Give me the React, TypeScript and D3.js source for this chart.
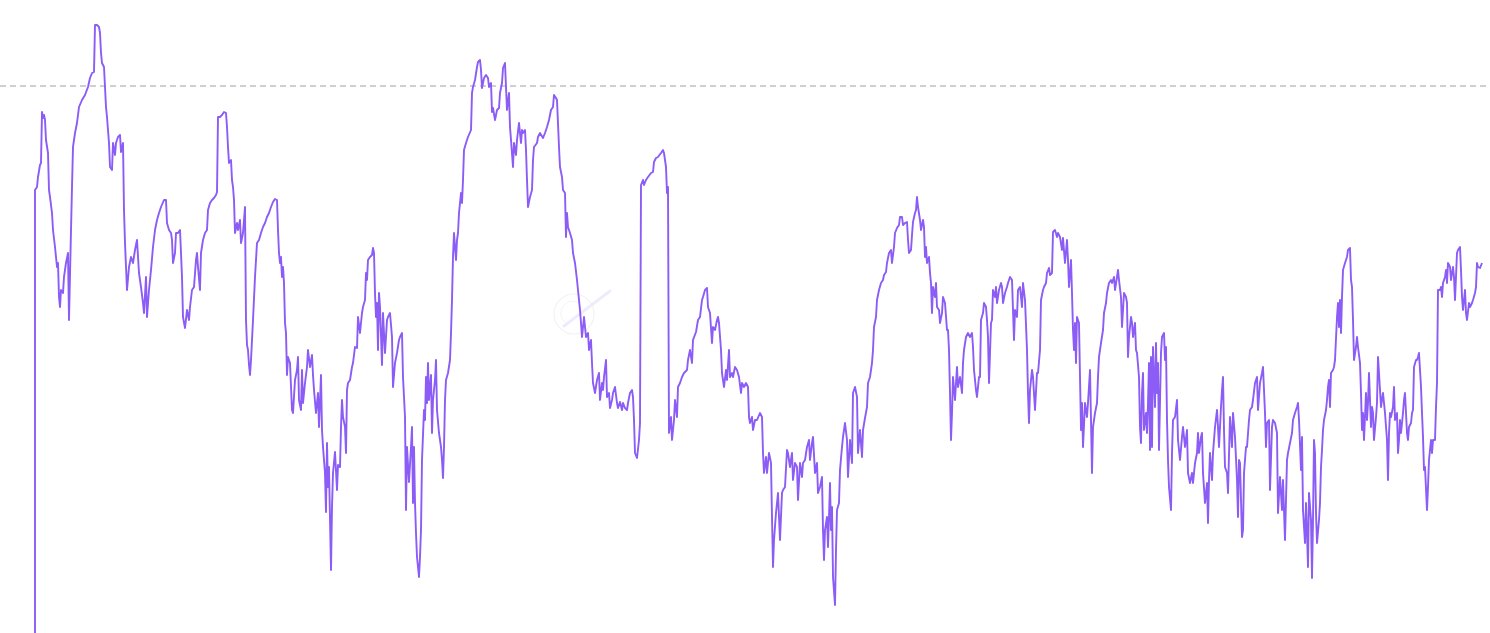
import { useMemo } from 'react';
import * as d3 from 'd3';

// [day, index value]
const series: [number, number][] = [
  [0, 0], [0, 44.3], [2, 44.6], [3, 45.6], [5, 46.8], [6, 47.0], [7, 52.1], [8, 51.5], [9, 51.8], [10, 51.3],
  [11, 49.3], [13, 48.0], [14, 44.3], [15, 43.6], [17, 42.0], [18, 40.3], [20, 38.6], [22, 36.6], [23, 37.0], [24, 33.6],
  [25, 32.6], [26, 34.3], [28, 34.0], [29, 35.6], [31, 37.0], [33, 38.0], [34, 31.3], [36, 40.3], [37, 44.6], [38, 48.6],
  [40, 50.0], [42, 51.0], [44, 52.6], [47, 53.3], [50, 53.8], [53, 54.6], [55, 55.5], [57, 56.0], [59, 56.1], [60, 60.8],
  [62, 60.8], [64, 60.6], [65, 60.0], [66, 58.0], [67, 57.0], [69, 56.6], [71, 52.6], [72, 51.6], [74, 49.0], [75, 46.6],
  [77, 46.3], [78, 49.0], [80, 47.8], [81, 49.0], [83, 49.6], [85, 49.8], [86, 48.1], [88, 49.0], [89, 42.3], [90, 39.0],
  [92, 34.3], [94, 36.6], [96, 37.6], [98, 37.0], [100, 38.3], [102, 39.3], [104, 36.0], [106, 34.6], [108, 33.0], [109, 32.0],
  [111, 35.6], [112, 31.6], [114, 34.3], [116, 36.3], [118, 38.6], [120, 40.3], [122, 41.3], [124, 42.0], [126, 42.6], [129, 43.3],
  [131, 43.3], [132, 41.0], [134, 40.3], [136, 40.0], [137, 39.3], [138, 37.0], [140, 38.0], [141, 40.0], [143, 40.0], [145, 40.3],
  [146, 38.0], [147, 35.6], [148, 31.6], [150, 30.5], [152, 32.3], [154, 31.3], [155, 32.6], [157, 34.3], [159, 34.6], [161, 37.3],
  [162, 38.0], [163, 36.6], [165, 34.3], [166, 38.0], [168, 39.3], [170, 40.0], [172, 40.3], [173, 42.3], [175, 43.0], [177, 43.3],
  [179, 43.5], [181, 43.8], [182, 44.1], [183, 51.6], [185, 51.6], [187, 51.8], [189, 52.1], [191, 52.0], [192, 50.6], [193, 48.6],
  [194, 47.0], [196, 47.3], [197, 45.3], [198, 44.6], [199, 43.3], [200, 40.0], [202, 41.0], [203, 40.3], [205, 41.3], [206, 39.0],
  [208, 40.0], [210, 42.6], [211, 31.3], [212, 28.8], [213, 28.3], [214, 26.8], [215, 25.8], [216, 27.3], [218, 31.3], [220, 35.6],
  [221, 37.3], [222, 39.0], [224, 39.3], [226, 40.0], [228, 40.6], [230, 41.0], [232, 41.6], [234, 42.0], [236, 42.6], [238, 43.1],
  [240, 43.4], [242, 43.3], [243, 40.3], [244, 38.0], [245, 37.0], [246, 37.6], [247, 35.6], [248, 36.6], [249, 35.0], [250, 31.0],
  [251, 30.0], [252, 25.8], [253, 27.6], [255, 27.0], [257, 22.3], [258, 22.0], [260, 25.3], [262, 26.3], [263, 27.6], [264, 23.3],
  [266, 22.3], [267, 26.3], [268, 23.0], [270, 25.0], [272, 26.6], [273, 28.3], [275, 26.6], [277, 27.8], [278, 25.8], [279, 24.3],
  [281, 22.0], [283, 24.0], [284, 20.6], [286, 25.8], [287, 20.3], [288, 18.6], [290, 16.0], [291, 12.1], [292, 19.0], [293, 14.6],
  [294, 16.6], [296, 6.3], [297, 12.6], [298, 16.0], [300, 18.1], [302, 14.3], [303, 16.8], [305, 16.6], [306, 20.6], [307, 23.3],
  [308, 21.6], [310, 20.6], [311, 18.0], [312, 24.3], [313, 25.0], [315, 25.3], [317, 26.6], [318, 27.0], [320, 28.6], [322, 28.5],
  [323, 31.6], [325, 30.0], [327, 32.0], [328, 32.6], [330, 33.3], [331, 36.0], [332, 35.3], [333, 37.3], [335, 37.6], [337, 37.8],
  [338, 38.5], [339, 38.0], [340, 34.0], [341, 31.6], [342, 33.0], [343, 28.3], [344, 34.0], [345, 32.6], [347, 26.8], [348, 32.0],
  [350, 28.0], [352, 31.3], [353, 31.6], [355, 32.0], [357, 29.6], [358, 24.6], [360, 27.0], [362, 28.0], [364, 29.3], [365, 29.6],
  [367, 30.0], [368, 25.6], [370, 21.6], [371, 12.3], [372, 18.6], [374, 15.1], [376, 18.6], [377, 20.6], [378, 13.0], [379, 18.6],
  [380, 13.0], [381, 10.0], [382, 7.6], [384, 5.6], [385, 7.6], [386, 10.3], [387, 17.3], [389, 22.3], [390, 21.3], [391, 25.6],
  [392, 23.0], [393, 27.0], [394, 23.3], [396, 25.8], [397, 20.0], [398, 23.3], [400, 25.3], [401, 27.3], [402, 22.3], [404, 20.0],
  [406, 18.6], [407, 17.3], [408, 15.5], [409, 18.6], [410, 23.3], [411, 25.3], [413, 26.0], [415, 27.3], [416, 30.0], [417, 33.3],
  [418, 37.6], [419, 40.0], [421, 37.3], [422, 39.3], [423, 40.0], [424, 42.0], [426, 44.0], [427, 43.0], [428, 45.3], [429, 48.3],
  [431, 49.0], [433, 49.6], [436, 50.3], [437, 54.0], [438, 54.6], [440, 55.3], [442, 56.6], [443, 57.1], [445, 57.3], [446, 56.3],
  [447, 54.5], [449, 55.5], [451, 55.8], [453, 55.5], [454, 54.6], [456, 55.0], [457, 52.1], [458, 52.5], [460, 51.3], [462, 52.3],
  [464, 52.5], [465, 54.0], [467, 55.0], [468, 56.5], [470, 57.0], [471, 54.6], [472, 52.3], [474, 54.0], [475, 50.6], [476, 49.3],
  [478, 46.6], [479, 49.0], [481, 47.8], [482, 49.3], [484, 51.0], [486, 49.0], [487, 50.3], [488, 50.0], [490, 50.3], [491, 48.3],
  [492, 45.3], [493, 42.6], [495, 43.6], [497, 44.3], [498, 47.3], [499, 48.6], [502, 49.0], [503, 49.6], [505, 50.0], [508, 49.5],
  [510, 50.0], [512, 50.6], [514, 51.3], [516, 52.3], [518, 52.6], [519, 53.8], [521, 53.5], [522, 53.3], [524, 48.6], [525, 46.6],
  [527, 45.6], [528, 44.3], [530, 44.0], [531, 39.6], [532, 42.0], [533, 40.6], [535, 40.0], [537, 39.3], [538, 38.0], [540, 37.0],
  [542, 35.3], [543, 34.3], [545, 32.3], [546, 31.0], [547, 29.6], [549, 31.6], [551, 29.6], [553, 30.0], [554, 28.3], [556, 29.3],
  [557, 27.0], [558, 25.0], [560, 24.0], [562, 25.3], [564, 26.0], [565, 23.3], [567, 25.0], [568, 24.3], [569, 25.6], [571, 27.3],
  [572, 23.6], [574, 24.0], [575, 22.5], [577, 23.3], [578, 24.0], [580, 24.6], [582, 23.0], [583, 22.5], [585, 23.1], [587, 22.3],
  [588, 23.0], [590, 22.5], [592, 22.3], [593, 23.0], [595, 24.0], [597, 24.3], [598, 23.6], [599, 21.3], [600, 18.0], [602, 17.5],
  [604, 19.3], [605, 21.0], [606, 44.8], [608, 45.3], [609, 44.8], [611, 45.3], [613, 45.6], [616, 46.0], [618, 46.1], [619, 47.1],
  [621, 47.5], [623, 47.6], [626, 48.0], [628, 48.3], [629, 48.0], [631, 46.6], [632, 44.0], [633, 44.6], [634, 20.0], [636, 21.6],
  [637, 19.3], [639, 21.3], [640, 23.3], [642, 21.6], [643, 24.6], [645, 25.0], [647, 25.6], [649, 26.0], [652, 26.3], [653, 27.3],
  [655, 28.3], [657, 27.0], [658, 29.3], [661, 30.1], [663, 31.3], [665, 31.6], [667, 33.3], [668, 33.6], [670, 34.3], [672, 34.5],
  [673, 32.6], [675, 32.0], [677, 29.0], [678, 30.6], [680, 30.3], [682, 31.3], [683, 31.6], [684, 31.0], [686, 28.3], [687, 26.0],
  [689, 24.6], [691, 26.3], [692, 25.3], [694, 28.3], [695, 25.6], [697, 26.0], [698, 25.6], [700, 26.6], [702, 26.3], [704, 25.6],
  [706, 24.0], [707, 25.0], [709, 24.6], [711, 25.0], [713, 24.6], [714, 21.6], [715, 21.0], [717, 21.6], [718, 20.3], [720, 21.3],
  [722, 21.3], [725, 22.0], [727, 21.6], [728, 18.0], [729, 16.0], [731, 17.6], [732, 16.0], [734, 18.0], [736, 17.0], [737, 11.6],
  [738, 6.6], [739, 9.3], [741, 12.0], [742, 13.0], [743, 14.0], [745, 9.3], [747, 14.0], [748, 14.3], [750, 14.6], [752, 18.3],
  [753, 18.0], [755, 16.6], [757, 18.0], [758, 15.3], [760, 17.0], [762, 16.6], [763, 13.3], [765, 17.0], [767, 15.6], [768, 17.0],
  [770, 17.3], [772, 18.6], [774, 19.3], [775, 17.3], [777, 19.0], [778, 19.6], [780, 16.0], [782, 17.0], [783, 14.0], [785, 14.6],
  [787, 15.6], [788, 10.3], [789, 7.3], [790, 10.3], [792, 11.6], [793, 8.6], [794, 11.6], [795, 15.0], [796, 10.3], [797, 12.6],
  [798, 5.6], [800, 2.8], [801, 8.3], [802, 12.3], [804, 13.0], [805, 16.3], [807, 18.6], [808, 19.6], [810, 21.0], [812, 19.3],
  [813, 15.6], [815, 19.3], [817, 17.0], [818, 24.0], [820, 24.6], [822, 23.6], [823, 18.0], [825, 20.3], [827, 17.6], [828, 20.3],
  [830, 21.5], [832, 22.6], [833, 25.0], [835, 25.6], [837, 27.0], [838, 28.3], [839, 30.6], [841, 31.6], [842, 33.3], [844, 34.3],
  [846, 35.0], [848, 35.3], [849, 35.8], [851, 36.1], [852, 37.0], [854, 38.0], [856, 38.3], [857, 37.0], [859, 38.6], [860, 40.0],
  [862, 40.5], [864, 40.8], [865, 41.6], [867, 41.6], [868, 40.8], [870, 41.0], [872, 41.1], [873, 39.3], [874, 38.0], [876, 38.3],
  [877, 39.8], [878, 41.1], [880, 42.0], [881, 42.3], [882, 43.6], [883, 42.6], [885, 41.3], [886, 40.3], [888, 41.3], [889, 40.6],
  [890, 37.6], [891, 38.6], [892, 37.0], [894, 37.6], [895, 36.0], [896, 35.0], [897, 32.0], [898, 34.6], [900, 33.6], [901, 35.0],
  [902, 32.6], [904, 32.3], [905, 31.0], [907, 32.0], [908, 33.6], [910, 33.0], [912, 30.3], [913, 30.3], [914, 28.3], [915, 24.0],
  [916, 19.3], [917, 22.0], [918, 25.6], [920, 23.3], [922, 26.6], [923, 24.6], [925, 25.6], [927, 24.0], [928, 27.0], [929, 28.3],
  [931, 29.6], [933, 30.0], [935, 29.6], [937, 30.0], [938, 28.6], [939, 26.3], [941, 24.3], [942, 23.6], [944, 25.6], [945, 25.6],
  [946, 31.3], [948, 32.0], [949, 33.0], [951, 32.6], [952, 31.3], [953, 29.6], [954, 25.0], [956, 31.0], [957, 31.3], [958, 34.3],
  [960, 33.6], [961, 34.6], [962, 33.0], [964, 34.3], [966, 35.0], [967, 34.6], [968, 33.0], [970, 34.0], [972, 34.6], [973, 35.0],
  [975, 35.6], [977, 35.3], [978, 32.3], [979, 29.3], [980, 32.3], [982, 31.6], [983, 34.3], [985, 34.6], [987, 32.6], [988, 35.0],
  [990, 33.3], [992, 28.3], [993, 24.0], [994, 21.0], [995, 24.3], [997, 26.3], [998, 25.6], [1000, 22.3], [1002, 26.0], [1003, 26.0],
  [1005, 28.3], [1006, 33.3], [1008, 34.3], [1009, 34.6], [1011, 35.0], [1012, 36.0], [1014, 36.5], [1015, 35.8], [1017, 36.0], [1018, 40.1],
  [1020, 40.3], [1022, 39.6], [1023, 40.0], [1025, 39.6], [1027, 38.3], [1028, 39.5], [1030, 37.0], [1032, 39.3], [1033, 37.3], [1034, 34.6],
  [1036, 37.3], [1037, 34.0], [1038, 30.3], [1039, 28.3], [1040, 31.0], [1041, 27.0], [1042, 31.6], [1044, 31.0], [1045, 25.6], [1046, 20.3],
  [1047, 23.0], [1048, 18.6], [1050, 23.0], [1052, 21.6], [1053, 23.0], [1055, 26.3], [1056, 21.3], [1057, 16.0], [1058, 20.6], [1060, 22.0],
  [1062, 23.0], [1063, 25.6], [1064, 27.6], [1066, 29.0], [1068, 30.3], [1069, 32.0], [1071, 33.0], [1072, 34.0], [1074, 35.0], [1076, 35.3],
  [1077, 35.0], [1079, 35.6], [1080, 34.3], [1082, 35.6], [1083, 36.3], [1084, 35.3], [1086, 33.6], [1087, 30.6], [1088, 32.3], [1089, 34.0],
  [1091, 33.6], [1092, 33.0], [1093, 27.6], [1094, 29.6], [1096, 31.6], [1097, 31.0], [1098, 29.6], [1100, 31.0], [1101, 28.3], [1102, 28.0],
  [1104, 25.6], [1105, 20.6], [1106, 19.0], [1107, 24.0], [1108, 26.0], [1109, 20.3], [1111, 22.0], [1112, 20.0], [1113, 23.0], [1114, 27.0],
  [1115, 18.3], [1116, 27.6], [1117, 18.6], [1118, 28.6], [1120, 22.6], [1121, 29.0], [1122, 24.0], [1123, 27.0], [1124, 18.3], [1126, 28.0],
  [1127, 29.6], [1129, 30.0], [1130, 27.3], [1131, 28.6], [1132, 21.3], [1133, 17.3], [1134, 14.6], [1136, 12.3], [1137, 18.0], [1138, 21.3],
  [1140, 21.6], [1142, 23.3], [1143, 19.3], [1145, 17.3], [1147, 19.6], [1148, 20.6], [1150, 18.6], [1152, 20.3], [1153, 16.0], [1155, 15.0],
  [1157, 16.0], [1158, 15.0], [1160, 17.0], [1162, 18.0], [1163, 20.0], [1164, 18.0], [1166, 19.6], [1167, 20.0], [1168, 16.0], [1170, 13.0],
  [1172, 15.0], [1173, 11.0], [1174, 15.3], [1175, 18.0], [1177, 15.3], [1178, 18.0], [1180, 20.6], [1182, 22.3], [1183, 20.6], [1184, 18.6],
  [1186, 22.6], [1187, 24.3], [1188, 25.6], [1189, 20.3], [1190, 16.6], [1192, 16.0], [1193, 14.0], [1195, 21.6], [1197, 18.6], [1198, 22.0],
  [1200, 19.6], [1202, 15.3], [1203, 11.6], [1204, 17.3], [1205, 17.0], [1207, 9.6], [1208, 10.3], [1209, 16.0], [1211, 18.6], [1212, 18.6],
  [1214, 21.3], [1215, 22.3], [1217, 22.6], [1218, 23.3], [1220, 25.0], [1222, 25.6], [1223, 22.3], [1225, 25.0], [1227, 26.0], [1228, 26.6],
  [1230, 22.0], [1231, 18.6], [1232, 21.0], [1234, 21.3], [1235, 14.3], [1237, 20.6], [1238, 21.3], [1240, 21.0], [1242, 20.0], [1243, 12.0],
  [1245, 15.6], [1247, 12.3], [1248, 15.3], [1250, 9.3], [1252, 17.3], [1253, 18.0], [1255, 19.0], [1257, 20.0], [1258, 21.3], [1260, 22.0],
  [1262, 22.6], [1263, 23.0], [1264, 21.3], [1266, 16.3], [1267, 19.6], [1268, 12.3], [1270, 9.0], [1271, 13.0], [1272, 10.0], [1273, 6.6],
  [1274, 14.0], [1276, 11.3], [1277, 5.5], [1278, 11.3], [1279, 19.3], [1280, 18.0], [1281, 12.0], [1282, 9.0], [1284, 11.3], [1285, 13.0],
  [1286, 16.6], [1287, 18.3], [1288, 20.3], [1289, 21.3], [1291, 22.3], [1292, 23.3], [1293, 24.6], [1294, 25.3], [1295, 22.6], [1296, 26.0],
  [1298, 26.3], [1299, 26.6], [1300, 27.3], [1302, 31.6], [1303, 33.0], [1304, 30.6], [1305, 33.3], [1306, 30.0], [1307, 33.6], [1308, 36.3],
  [1310, 37.0], [1312, 37.6], [1313, 38.3], [1315, 38.5], [1316, 35.3], [1317, 34.6], [1318, 31.3], [1319, 27.3], [1321, 28.6], [1322, 29.6],
  [1323, 28.6], [1325, 27.0], [1326, 24.0], [1327, 20.3], [1328, 22.0], [1329, 19.3], [1331, 24.0], [1332, 21.3], [1333, 23.0], [1334, 26.0],
  [1336, 20.6], [1337, 22.6], [1338, 22.0], [1339, 19.3], [1341, 21.6], [1342, 23.0], [1343, 27.6], [1344, 26.0], [1346, 22.6], [1347, 23.3],
  [1348, 24.0], [1350, 22.0], [1352, 19.3], [1353, 15.3], [1354, 20.0], [1355, 22.0], [1356, 21.6], [1358, 22.6], [1359, 24.6], [1360, 21.3],
  [1362, 22.0], [1363, 18.0], [1364, 19.3], [1365, 21.3], [1366, 20.0], [1368, 22.0], [1369, 23.3], [1370, 24.0], [1372, 20.0], [1373, 19.3],
  [1374, 20.6], [1376, 21.0], [1377, 22.0], [1378, 22.3], [1379, 26.6], [1381, 27.3], [1382, 27.3], [1383, 27.6], [1384, 28.0], [1386, 24.6],
  [1387, 22.0], [1388, 19.6], [1389, 16.3], [1390, 16.6], [1392, 12.3], [1393, 14.6], [1394, 17.3], [1396, 19.3], [1397, 18.0], [1398, 19.3],
  [1400, 19.3], [1401, 22.6], [1402, 25.0], [1403, 34.3], [1405, 34.3], [1406, 34.6], [1407, 33.6], [1408, 35.0], [1410, 35.6], [1411, 36.3],
  [1412, 35.0], [1413, 37.0], [1415, 36.6], [1416, 35.3], [1418, 36.6], [1419, 35.6], [1420, 33.3], [1422, 38.0], [1423, 38.3], [1425, 38.6],
  [1426, 36.3], [1427, 33.6], [1428, 32.3], [1430, 34.3], [1431, 32.0], [1432, 31.3], [1434, 33.0], [1435, 32.6], [1437, 33.0], [1438, 33.3],
  [1440, 34.0], [1441, 34.6], [1442, 37.0], [1443, 36.6], [1445, 36.5], [1447, 37.0],
];

const refLevel = 54.7;
const yMax = 63.3;

const width = 1490;
const height = 633;
const margin = { top: 0, right: 8, bottom: 0, left: 35 };

export default function App() {
  const x = useMemo(
    () =>
      d3
        .scaleLinear()
        .domain(d3.extent(series, (d) => d[0]) as [number, number])
        .range([margin.left, width - margin.right]),
    []
  );
  const y = useMemo(
    () => d3.scaleLinear().domain([0, yMax]).range([height - margin.bottom, margin.top]),
    []
  );

  const path = d3
    .line<[number, number]>()
    .x((d) => x(d[0]))
    .y((d) => y(d[1]))(series);

  return (
    <div style={{ position: 'absolute', left: 0, top: 0 }}>
      <svg width={width} height={height} style={{ display: 'block', background: '#fff' }}>
        {/* faint watermark */}
        <g opacity={0.45}>
          <circle cx={574} cy={314} r={20} fill="none" stroke="#e2e2ea" strokeWidth={1.2} />
          <path d="M 565 322 A 11 11 0 0 1 580 304" fill="none" stroke="#e4e4ec" strokeWidth={1} />
          <line x1={564} y1={326} x2={610} y2={291} stroke="#ddd5fa" strokeWidth={3} strokeLinecap="round" />
        </g>

        {/* reference level */}
        <line
          x1={0}
          x2={width}
          y1={y(refLevel)}
          y2={y(refLevel)}
          stroke="#a0a0a0"
          strokeWidth={1}
          strokeDasharray="6 4"
        />

        <path
          d={path ?? ''}
          fill="none"
          stroke="#8b5cf6"
          strokeWidth={1.9}
          strokeLinejoin="round"
        />
      </svg>
    </div>
  );
}
